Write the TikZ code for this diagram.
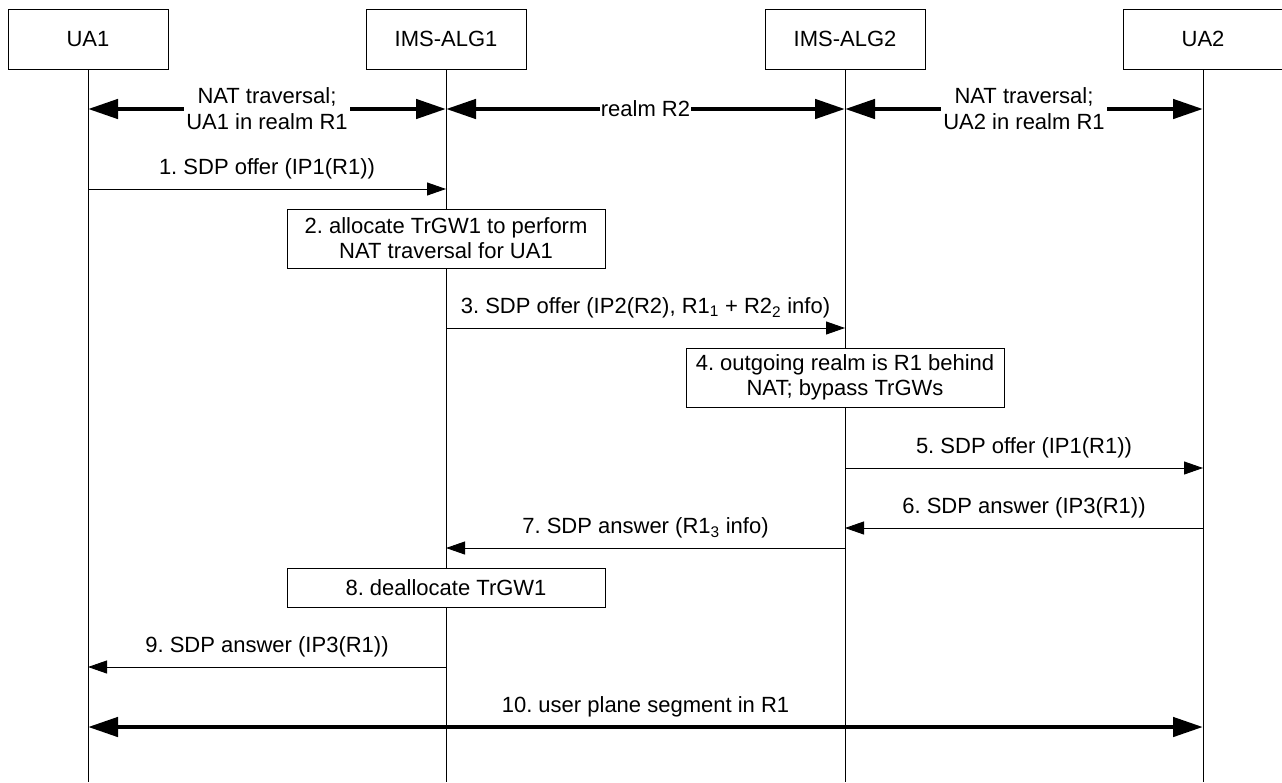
\documentclass[tikz,border=0pt]{standalone}
\usepackage{fontspec}
\setmainfont{Liberation Sans}
\usetikzlibrary{arrows.meta,positioning,calc}
\frenchspacing
\tikzset{
    entity/.style={draw, minimum width=160pt, minimum height=60pt,
        font=\fontsize{22}{25}\selectfont},
    procbox/.style={draw, fill=white, align=center, minimum width=318pt,
        inner sep=2pt, font=\fontsize{22}{25}\selectfont},
    msgarrow/.style={-{Triangle[length=19pt,width=13pt]}, line width=0.9pt},
    realmarrow/.style={{Triangle[length=30pt,width=19pt]}-{Triangle[length=30pt,width=19pt]},
        line width=4.6pt},
    msglabel/.style={anchor=base, yshift=14.5pt, inner sep=0pt, font=\fontsize{22}{25}\selectfont},
    realmlabel/.style={fill=white, align=center, inner xsep=2pt, inner ysep=1pt,
        font=\fontsize{22}{26}\selectfont}
}

\begin{document}
\begin{tikzpicture}[x=1pt, y=-1pt]
\useasboundingbox (0,0) rectangle (1282,782);
\node[entity] (ua1) at (88,39) {UA1};
\node[entity] (alg1) at (446,39) {IMS-ALG1};
\node[entity] (alg2) at (845,39) {IMS-ALG2};
\node[entity] (ua2) at (1203,39) {UA2};
\coordinate (bot) at (0,782);
\foreach \n in {ua1,alg1,alg2,ua2}
    \draw[line width=0.9pt] (\n.south) -- (\n |- bot);

\coordinate (r0) at (0,109);
\coordinate (m1) at (0,189);
\coordinate (m3) at (0,328);
\coordinate (m5) at (0,468);
\coordinate (m6) at (0,528);
\coordinate (m7) at (0,548);
\coordinate (m9) at (0,667);
\coordinate (m10) at (0,727);

\draw[realmarrow] (ua1 |- r0) -- node[realmlabel] (nat1) {NAT traversal;\\UA1 in realm R1} (alg1 |- r0);
\draw[realmarrow] (alg1 |- r0) -- node[realmlabel, inner xsep=0.5pt, inner ysep=0pt] (realm2) {realm R2} (alg2 |- r0);
\draw[realmarrow] (alg2 |- r0) -- node[realmlabel] (nat2) {NAT traversal;\\UA2 in realm R1} (ua2 |- r0);

\draw[msgarrow] (ua1 |- m1) -- node[msglabel] (l1) {1. SDP offer (IP1(R1))} (alg1 |- m1);
\node[procbox, minimum height=59pt] (p2) at (alg1 |- 0,238.5) {2. allocate TrGW1 to perform\\NAT traversal for UA1};
\draw[msgarrow] (alg1 |- m3) -- node[msglabel] (l3) {3. SDP offer (IP2(R2), R1\textsubscript{1} + R2\textsubscript{2} info)} (alg2 |- m3);
\node[procbox, minimum height=59pt] (p4) at (alg2 |- 0,377.5) {4. outgoing realm is R1 behind\\NAT; bypass TrGWs};
\draw[msgarrow] (alg2 |- m5) -- node[msglabel] (l5) {5. SDP offer (IP1(R1))} (ua2 |- m5);
\draw[msgarrow] (ua2 |- m6) -- node[msglabel] (l6) {6. SDP answer (IP3(R1))} (alg2 |- m6);
\draw[msgarrow] (alg2 |- m7) -- node[msglabel] (l7) {7. SDP answer (R1\textsubscript{3} info)} (alg1 |- m7);
\node[procbox, minimum height=39pt] (p8) at (alg1 |- 0,587.5) {8. deallocate TrGW1};
\draw[msgarrow] (alg1 |- m9) -- node[msglabel] (l9) {9. SDP answer (IP3(R1))} (ua1 |- m9);
\draw[realmarrow] (ua1 |- m10) -- node[msglabel] (l10) {10. user plane segment in R1} (ua2 |- m10);
\end{tikzpicture}
\end{document}
